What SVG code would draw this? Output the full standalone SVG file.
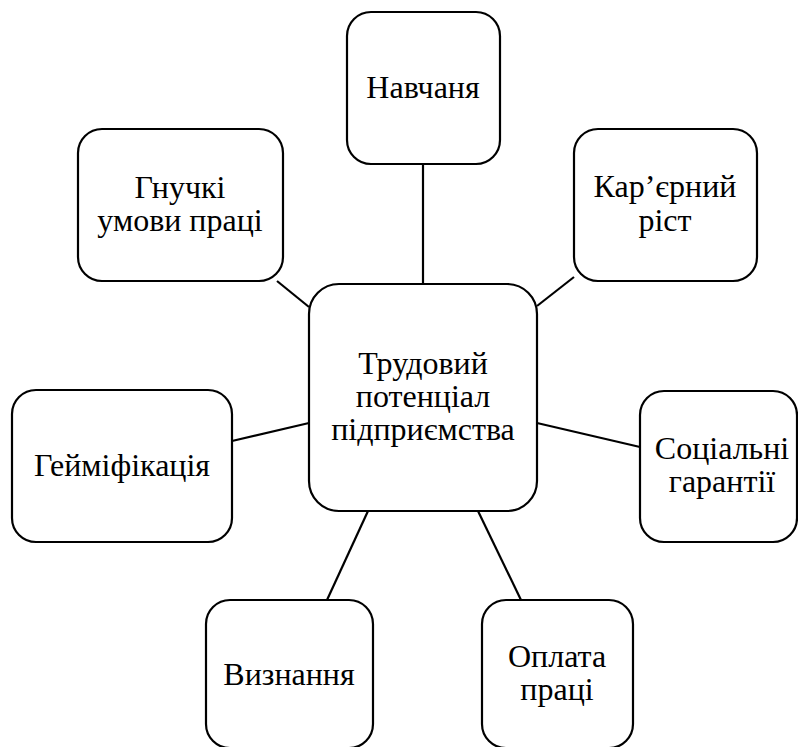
<svg xmlns="http://www.w3.org/2000/svg" width="798" height="747" viewBox="0 0 798 747">
<style>
.box{fill:#fff;stroke:#000;stroke-width:2.2}
.t{font-size:32px;fill:#000;text-anchor:middle}
.c{stroke:#000;stroke-width:2.2;fill:none}
</style>
<rect width="798" height="747" fill="#fff"/>
<g id="connectors">
<line class="c" x1="423" y1="164" x2="423" y2="284"/>
<line class="c" x1="574" y1="277" x2="537" y2="306"/>
<line class="c" x1="277" y1="281" x2="309" y2="307"/>
<line class="c" x1="232" y1="441" x2="309" y2="423"/>
<line class="c" x1="537" y1="423" x2="640" y2="447"/>
<line class="c" x1="368" y1="511" x2="327" y2="600"/>
<line class="c" x1="478" y1="511" x2="521" y2="600"/>
</g>
<g id="nodes" font-family="Liberation Serif, Times New Roman, serif">
<g id="center">
<rect class="box" x="309" y="284" width="228" height="227" rx="30"/>
<text class="t" x="423" y="374">Трудовий</text>
<text class="t" x="423" y="407">потенціал</text>
<text class="t" x="423" y="440">підприємства</text>
</g>
<g id="navchannia">
<rect class="box" x="347" y="12" width="153" height="152" rx="24"/>
<text class="t" x="423" y="98">Навчаня</text>
</g>
<g id="kariernyi">
<rect class="box" x="574" y="129" width="183" height="152" rx="24"/>
<text class="t" x="665" y="197">Кар’єрний</text>
<text class="t" x="665" y="231">ріст</text>
</g>
<g id="hnuchki">
<rect class="box" x="78" y="129" width="205" height="152" rx="24"/>
<text class="t" x="180" y="198">Гнучкі</text>
<text class="t" x="180" y="231">умови праці</text>
</g>
<g id="heimifikatsiia">
<rect class="box" x="12" y="390" width="220" height="152" rx="24"/>
<text class="t" x="122" y="476">Гейміфікація</text>
</g>
<g id="sotsialni">
<rect class="box" x="640" y="391" width="157" height="151" rx="24"/>
<text class="t" x="722" y="459">Соціальні</text>
<text class="t" x="722" y="492">гарантії</text>
</g>
<g id="vyznannia">
<rect class="box" x="206" y="600" width="167" height="148" rx="24"/>
<text class="t" x="289" y="685">Визнання</text>
</g>
<g id="oplata">
<rect class="box" x="482" y="600" width="151" height="148" rx="24"/>
<text class="t" x="557" y="667">Оплата</text>
<text class="t" x="557" y="700">праці</text>
</g>
</g>
</svg>
